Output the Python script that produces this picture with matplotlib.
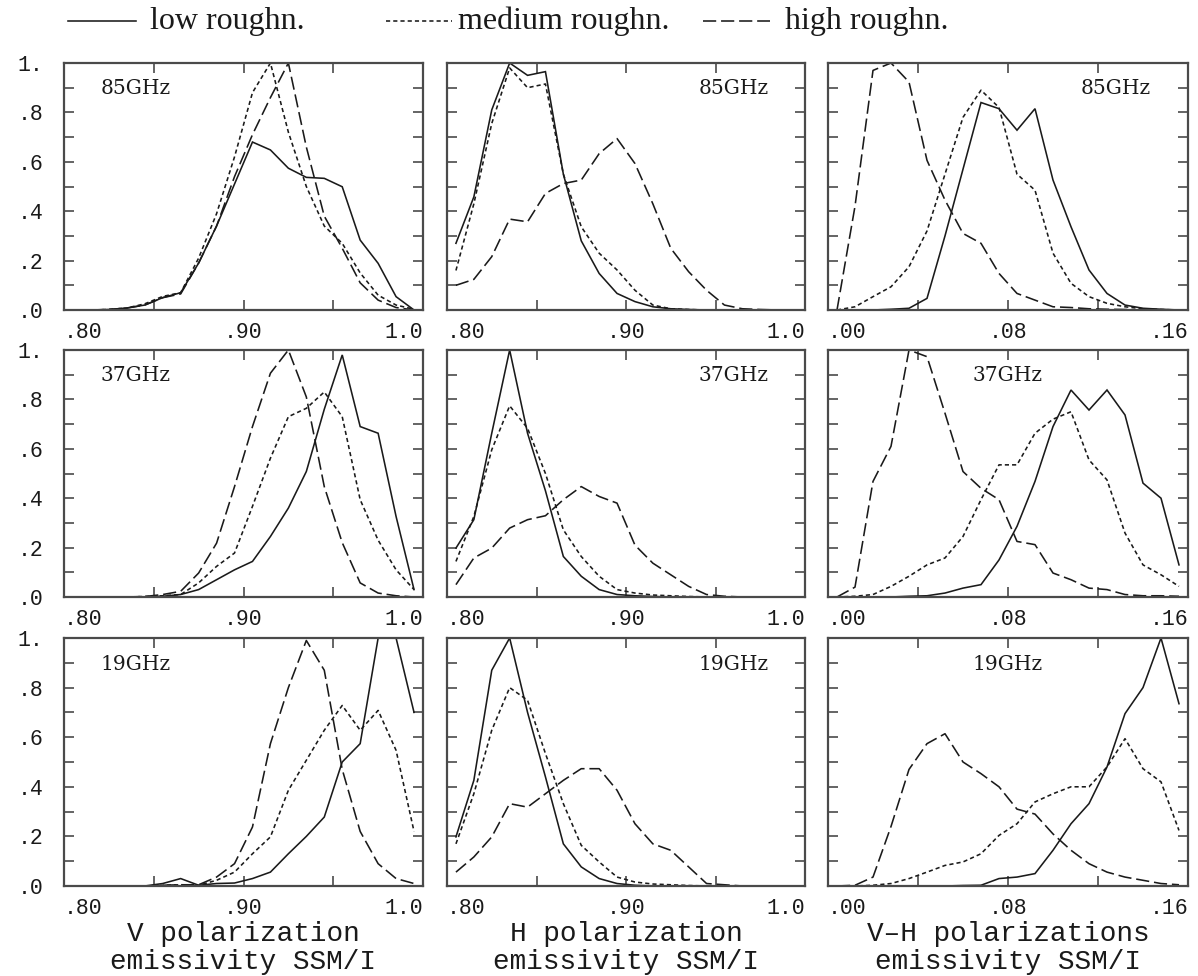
import matplotlib
matplotlib.use("Agg")
import matplotlib.pyplot as plt
from matplotlib.lines import Line2D

plt.rcParams["lines.scale_dashes"] = False

# ---------------------------------------------------------------------------
# Histogram bin centres
# ---------------------------------------------------------------------------
emis_bins = [0.805, 0.815, 0.825, 0.835, 0.845, 0.855, 0.865, 0.875, 0.885, 0.895,
             0.905, 0.915, 0.925, 0.935, 0.945, 0.955, 0.965, 0.975, 0.985, 0.995]
diff_bins = [0.004, 0.012, 0.020, 0.028, 0.036, 0.044, 0.052, 0.060, 0.068, 0.076,
             0.084, 0.092, 0.100, 0.108, 0.116, 0.124, 0.132, 0.140, 0.148, 0.156]

# ---------------------------------------------------------------------------
# Normalised frequency: V polarization emissivity
# ---------------------------------------------------------------------------
v85_low = [0, 0, 0.002, 0.008, 0.02, 0.05, 0.07, 0.19, 0.34, 0.51,
           0.68, 0.648, 0.574, 0.537, 0.533, 0.499, 0.283, 0.189, 0.054, 0.0]
v85_med = [0, 0, 0.002, 0.008, 0.025, 0.055, 0.07, 0.21, 0.39, 0.62,
           0.88, 1.0, 0.72, 0.50, 0.34, 0.27, 0.15, 0.06, 0.02, 0.003]
v85_high = [0, 0, 0.002, 0.008, 0.02, 0.05, 0.065, 0.19, 0.34, 0.54,
            0.71, 0.86, 1.0, 0.66, 0.38, 0.25, 0.11, 0.04, 0.01, 0.0]

v37_low = [0, 0, 0, 0, 0, 0.003, 0.01, 0.03, 0.07, 0.11,
           0.144, 0.245, 0.36, 0.508, 0.76, 0.98, 0.69, 0.663, 0.326, 0.03]
v37_med = [0, 0, 0, 0, 0.002, 0.005, 0.01, 0.057, 0.124, 0.178,
           0.367, 0.562, 0.73, 0.764, 0.83, 0.73, 0.394, 0.23, 0.11, 0.03]
v37_high = [0, 0, 0, 0, 0.002, 0.01, 0.023, 0.097, 0.218, 0.447,
            0.69, 0.906, 1.0, 0.81, 0.447, 0.22, 0.057, 0.016, 0.005, 0.0]

v19_low = [0, 0, 0, 0, 0, 0.01, 0.03, 0.003, 0.01, 0.012,
           0.03, 0.056, 0.13, 0.20, 0.278, 0.50, 0.574, 1.0, 1.0, 0.70]
v19_med = [0, 0, 0, 0, 0, 0.003, 0.005, 0.003, 0.023, 0.056,
           0.13, 0.198, 0.386, 0.507, 0.628, 0.728, 0.628, 0.708, 0.547, 0.22]
v19_high = [0, 0, 0, 0, 0, 0.003, 0.005, 0.005, 0.036, 0.09,
            0.238, 0.574, 0.80, 0.99, 0.87, 0.47, 0.22, 0.09, 0.03, 0.01]

# ---------------------------------------------------------------------------
# Normalised frequency: H polarization emissivity
# ---------------------------------------------------------------------------
h85_low = [0.27, 0.458, 0.81, 1.0, 0.95, 0.965, 0.55, 0.28, 0.148, 0.067,
           0.034, 0.013, 0.005, 0.002, 0, 0, 0, 0, 0, 0]
h85_med = [0.16, 0.43, 0.755, 0.98, 0.90, 0.915, 0.55, 0.337, 0.23, 0.162,
           0.08, 0.02, 0.005, 0.002, 0, 0, 0, 0, 0, 0]
h85_high = [0.10, 0.124, 0.216, 0.368, 0.357, 0.472, 0.512, 0.526, 0.633, 0.694,
            0.593, 0.43, 0.25, 0.155, 0.08, 0.02, 0.005, 0.002, 0, 0]

h37_low = [0.198, 0.313, 0.663, 1.0, 0.663, 0.43, 0.164, 0.084, 0.03, 0.01,
           0.005, 0.002, 0, 0, 0, 0, 0, 0, 0, 0]
h37_med = [0.144, 0.326, 0.596, 0.774, 0.683, 0.50, 0.272, 0.164, 0.084, 0.03,
           0.016, 0.008, 0.005, 0.002, 0, 0, 0, 0, 0, 0]
h37_high = [0.05, 0.158, 0.198, 0.279, 0.313, 0.329, 0.394, 0.447, 0.407, 0.38,
            0.21, 0.137, 0.09, 0.043, 0.01, 0.003, 0, 0, 0, 0]

h19_low = [0.198, 0.426, 0.87, 1.0, 0.70, 0.44, 0.17, 0.077, 0.03, 0.01,
           0.003, 0, 0, 0, 0, 0, 0, 0, 0, 0]
h19_med = [0.17, 0.372, 0.628, 0.80, 0.749, 0.534, 0.332, 0.164, 0.097, 0.036,
           0.016, 0.008, 0.005, 0.002, 0, 0, 0, 0, 0, 0]
h19_high = [0.056, 0.117, 0.198, 0.332, 0.318, 0.372, 0.426, 0.473, 0.473, 0.386,
            0.251, 0.17, 0.144, 0.077, 0.01, 0.005, 0, 0, 0, 0]

# ---------------------------------------------------------------------------
# Normalised frequency: V-H polarization difference
# ---------------------------------------------------------------------------
d85_low = [0, 0, 0, 0.003, 0.007, 0.047, 0.30, 0.57, 0.84, 0.815,
           0.728, 0.815, 0.526, 0.337, 0.162, 0.067, 0.02, 0.007, 0.003, 0.0]
d85_med = [0, 0.013, 0.054, 0.094, 0.175, 0.32, 0.55, 0.78, 0.89, 0.82,
           0.55, 0.485, 0.23, 0.108, 0.054, 0.027, 0.013, 0.005, 0.002, 0]
d85_high = [0, 0.42, 0.97, 1.0, 0.923, 0.606, 0.445, 0.31, 0.27, 0.148,
            0.067, 0.04, 0.013, 0.01, 0.005, 0.003, 0.002, 0, 0, 0]

d37_low = [0, 0, 0, 0, 0.003, 0.005, 0.016, 0.036, 0.05, 0.15,
           0.286, 0.468, 0.69, 0.838, 0.757, 0.838, 0.737, 0.461, 0.40, 0.13]
d37_med = [0, 0.003, 0.01, 0.043, 0.084, 0.13, 0.158, 0.245, 0.394, 0.535,
           0.535, 0.663, 0.72, 0.75, 0.555, 0.474, 0.259, 0.13, 0.09, 0.043]
d37_high = [0, 0.04, 0.468, 0.61, 1.0, 0.973, 0.744, 0.508, 0.44, 0.394,
            0.225, 0.212, 0.097, 0.07, 0.036, 0.03, 0.01, 0.005, 0.005, 0.003]

d19_low = [0, 0, 0, 0, 0, 0, 0, 0.002, 0.003, 0.03,
           0.036, 0.05, 0.144, 0.251, 0.332, 0.48, 0.695, 0.80, 1.0, 0.735]
d19_med = [0, 0, 0.003, 0.01, 0.03, 0.056, 0.083, 0.097, 0.13, 0.204,
           0.251, 0.339, 0.372, 0.40, 0.40, 0.48, 0.594, 0.473, 0.42, 0.224]
d19_high = [0, 0.003, 0.036, 0.24, 0.47, 0.574, 0.614, 0.50, 0.453, 0.40,
            0.31, 0.29, 0.21, 0.144, 0.09, 0.056, 0.036, 0.023, 0.01, 0.005]

freq_labels = ["85GHz", "37GHz", "19GHz"]
roughness_labels = ["low roughn.", "medium roughn.", "high roughn."]
column_titles = ["V polarization\nemissivity SSM/I",
                 "H polarization\nemissivity SSM/I",
                 "V\u2013H polarizations\nemissivity SSM/I"]

emis_ticks = [0.80, 0.85, 0.90, 0.95, 1.00]
emis_ticklabels = [".80", "", ".90", "", "1.0"]
diff_ticks = [0.00, 0.04, 0.08, 0.12, 0.16]
diff_ticklabels = [".00", "", ".08", "", ".16"]
y_ticks = [0.0, 0.1, 0.2, 0.3, 0.4, 0.5, 0.6, 0.7, 0.8, 0.9, 1.0]
y_ticklabels = [".0", "", ".2", "", ".4", "", ".6", "", ".8", "", "1."]

panels = [
    [(v85_low, v85_med, v85_high), (h85_low, h85_med, h85_high), (d85_low, d85_med, d85_high)],
    [(v37_low, v37_med, v37_high), (h37_low, h37_med, h37_high), (d37_low, d37_med, d37_high)],
    [(v19_low, v19_med, v19_high), (h19_low, h19_med, h19_high), (d19_low, d19_med, d19_high)],
]

# ---------------------------------------------------------------------------
# Styling
# ---------------------------------------------------------------------------
INK = "#1a1a1a"
FRAME = "#4a4a4a"
styles = [dict(ls="-"), dict(ls=(0, (3.0, 2.2))), dict(ls=(0, (9.5, 3.5)))]
LW = 1.15
MONO = "Liberation Mono"
TICK_FS = 15.5

W, H = 1198, 976
fig = plt.figure(figsize=(W / 100, H / 100), dpi=100)
fig.patch.set_facecolor("white")

col_left = [64, 447, 828]
col_width = [359, 358, 360]
row_top = [63, 350, 638]
row_height = [247, 247, 248]

label_pos = [[(0.20, 0.895), (0.80, 0.895), (0.80, 0.895)],
             [(0.20, 0.895), (0.80, 0.895), (0.50, 0.895)],
             [(0.20, 0.895), (0.80, 0.895), (0.50, 0.895)]]

for r in range(3):
    for c in range(3):
        rect = [col_left[c] / W, (H - row_top[r] - row_height[r]) / H,
                col_width[c] / W, row_height[r] / H]
        ax = fig.add_axes(rect)
        xs = diff_bins if c == 2 else emis_bins
        for series, st in zip(panels[r][c], styles):
            ax.plot(xs, series, color=INK, lw=LW, solid_joinstyle="miter", **st)

        if c == 2:
            ax.set_xlim(0.0, 0.16)
            ticks, tlabels = diff_ticks, diff_ticklabels
        else:
            ax.set_xlim(0.80, 1.00)
            ticks, tlabels = emis_ticks, emis_ticklabels
        ax.set_ylim(0.0, 1.0)

        ax.set_xticks(ticks)
        ax.set_xticklabels(tlabels, fontfamily=MONO, fontsize=TICK_FS)
        xt = ax.get_xticklabels()
        xt[0].set_horizontalalignment("left")
        xt[-1].set_horizontalalignment("right")
        ax.set_yticks(y_ticks)
        if c == 0:
            ax.set_yticklabels(y_ticklabels, fontfamily=MONO, fontsize=TICK_FS)
        else:
            ax.set_yticklabels([])

        ax.tick_params(axis="both", which="both", direction="in", length=7.5,
                       width=1.2, color=FRAME, top=True, right=True,
                       labelcolor=INK)
        ax.tick_params(axis="x", pad=8.5)
        ax.tick_params(axis="y", pad=15)
        for sp in ax.spines.values():
            sp.set_color(FRAME)
            sp.set_linewidth(1.6)

        lx, ly = label_pos[r][c]
        ax.text(lx, ly, freq_labels[r], transform=ax.transAxes, ha="center",
                va="center", fontfamily="DejaVu Serif", fontsize=14.5, color=INK)

# Column titles under the bottom row
for c in range(3):
    cx = (col_left[c] + col_width[c] / 2) / W
    fig.text(cx, 1 - 948 / H, column_titles[c], ha="center", va="center",
             fontfamily=MONO, fontsize=20, linespacing=1.08, color=INK)

# Legend across the top
legend_y = 1 - 21 / H
legend_items = [(68, 136, 150), (386, 452, 458), (703, 770, 785)]
for (x0, x1, tx), st, lab in zip(legend_items, styles, roughness_labels):
    fig.add_artist(Line2D([x0 / W, x1 / W], [legend_y, legend_y],
                          transform=fig.transFigure, color=INK, lw=LW, **st))
    fig.text(tx / W, legend_y, lab, ha="left", va="center",
             fontfamily="Liberation Serif", fontsize=23, color=INK)

fig.savefig("out.png", dpi=100, facecolor="white")
